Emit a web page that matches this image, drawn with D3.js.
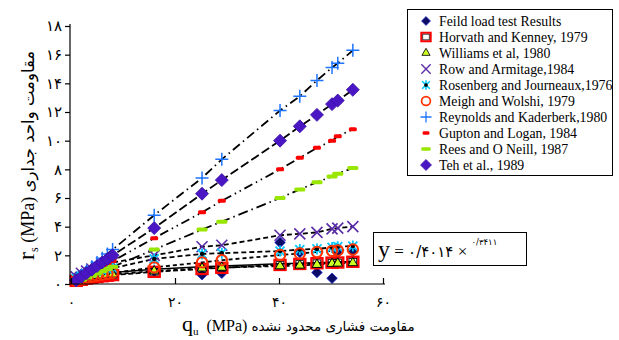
<!DOCTYPE html>
<html>
<head>
<meta charset="utf-8">
<script src="https://cdn.jsdelivr.net/npm/d3@7"></script>
<style>
  body { margin: 0; background: #fff; }
  svg { display: block; font-family: "Liberation Serif", "DejaVu Sans", serif; }
</style>
</head>
<body>
<div id="chart"></div>
<script>
// --- Data ---
const quValues = [1, 2, 3, 4, 5, 6, 7, 8, 16, 25.2, 29, 40.2, 44, 47.3, 50.2, 51.3, 54.2];

const fieldLoad = [0.5, 0.7, 0.9, 0.6, 1.0, 0.8, 1.1, 0.9, 0.9, 0.65, 0.75, 2.9, 2.2, 0.8, 0.4, 2.2, 2.3];
const horvath   = [0.22, 0.3, 0.38, 0.44, 0.49, 0.54, 0.58, 0.62, 0.85, 1.05, 1.13, 1.33, 1.4, 1.45, 1.49, 1.5, 1.55];
const williams  = [0.3, 0.4, 0.47, 0.52, 0.57, 0.61, 0.65, 0.68, 0.9, 1.1, 1.15, 1.25, 1.3, 1.35, 1.42, 1.44, 1.47];
const rowe      = [0.5, 0.75, 0.9, 1.05, 1.2, 1.3, 1.4, 1.5, 2.0, 2.6, 2.7, 3.4, 3.5, 3.6, 3.85, 3.9, 4.0];
const rosenberg = [0.38, 0.55, 0.68, 0.78, 0.88, 0.96, 1.04, 1.1, 1.75, 2.1, 2.15, 2.3, 2.4, 2.45, 2.55, 2.6, 2.65];
const meigh     = [0.22, 0.33, 0.42, 0.51, 0.58, 0.65, 0.71, 0.77, 1.16, 1.51, 1.66, 2.02, 2.13, 2.23, 2.31, 2.34, 2.41];
const reynolds  = [0.3, 0.6, 0.9, 1.2, 1.5, 1.8, 2.1, 2.4, 4.8, 7.4, 8.7, 12.1, 13.1, 14.2, 15.1, 15.4, 16.3];
const gupton    = [0.2, 0.4, 0.6, 0.8, 1.0, 1.2, 1.4, 1.6, 3.2, 5.0, 5.8, 8.0, 8.8, 9.5, 10.0, 10.3, 10.8];
const rees      = [0.15, 0.3, 0.45, 0.6, 0.75, 0.9, 1.05, 1.2, 2.4, 3.8, 4.35, 6.0, 6.6, 7.1, 7.5, 7.7, 8.1];
const teh       = [0.25, 0.5, 0.75, 1.0, 1.25, 1.5, 1.75, 2.0, 3.9, 6.3, 7.25, 10.0, 11.0, 11.8, 12.55, 12.8, 13.55];
const fitted    = [0.4, 0.51, 0.58, 0.64, 0.69, 0.74, 0.78, 0.81, 1.03, 1.2, 1.26, 1.41, 1.45, 1.49, 1.52, 1.53, 1.56];

const xTicks = [0, 20, 40, 60];
const xTickLabels = ["۰", "۲۰", "۴۰", "۶۰"];
const yTicks = [0, 2, 4, 6, 8, 10, 12, 14, 16, 18];
const yTickLabels = ["۰", "۲", "۴", "۶", "۸", "۱۰", "۱۲", "۱۴", "۱۶", "۱۸"];

const legendNames = [
    "Feild load test Results",
    "Horvath and Kenney, 1979",
    "Williams et al, 1980",
    "Row and Armitage,1984",
    "Rosenberg and Journeaux,1976",
    "Meigh and Wolshi, 1979",
    "Reynolds and Kaderberk,1980",
    "Gupton and Logan, 1984",
    "Rees and O Neill, 1987",
    "Teh et al., 1989"
];

// --- Series styles ---
const series = [
    { name: legendNames[0], values: fieldLoad, marker: 'field', dash: null },
    { name: legendNames[1], values: horvath, marker: 'square', dash: '5,2.5' },
    { name: legendNames[2], values: williams, marker: 'triangle', dash: '4,3' },
    { name: legendNames[3], values: rowe, marker: 'x', dash: '5,3' },
    { name: legendNames[4], values: rosenberg, marker: 'star', dash: '5,3' },
    { name: legendNames[5], values: meigh, marker: 'circle', dash: '4,3' },
    { name: legendNames[6], values: reynolds, marker: 'plus', dash: '9,4,1.5,4' },
    { name: legendNames[7], values: gupton, marker: 'red', dash: '9,4,1.5,4,1.5,4' },
    { name: legendNames[8], values: rees, marker: 'green', dash: '10,4,1.5,4' },
    { name: legendNames[9], values: teh, marker: 'teh', dash: '9,3.5' }
];

// --- Layout ---
const width = 619, height = 340;
const x = d3.scaleLinear().domain([0, 60]).range([71, 383]);
const y = d3.scaleLinear().domain([0, 18]).range([284, 26]);

const svg = d3.select('#chart').append('svg')
    .attr('width', width)
    .attr('height', height);

function drawMarker(g, type, cx, cy, scale) {
    const s = scale || 1;
    const m = g.append('g').attr('transform', `translate(${cx},${cy}) scale(${s})`);
    if (type === 'field') {
        m.append('path').attr('d', d3.symbol(d3.symbolSquare, 56)())
            .attr('transform', 'rotate(45)')
            .attr('fill', '#0c0c66').attr('stroke', '#2233cc').attr('stroke-width', 0.8);
    } else if (type === 'teh') {
        m.append('path').attr('d', d3.symbol(d3.symbolSquare, 84)())
            .attr('transform', 'rotate(45)')
            .attr('fill', '#4a16c4').attr('stroke', '#3a0ea8').attr('stroke-width', 0.8);
    } else if (type === 'square') {
        m.append('rect').attr('x', -5.5).attr('y', -5).attr('width', 11).attr('height', 10)
            .attr('fill', 'none').attr('stroke', '#ff0000').attr('stroke-width', 2.4);
        m.append('rect').attr('x', -3.8).attr('y', -3.3).attr('width', 7.6).attr('height', 6.6)
            .attr('fill', 'none').attr('stroke', '#000').attr('stroke-width', 0.8);
    } else if (type === 'triangle') {
        m.append('path').attr('d', d3.symbol(d3.symbolTriangle, 40)())
            .attr('fill', '#ccff22').attr('stroke', '#000').attr('stroke-width', 1);
    } else if (type === 'x') {
        m.append('path').attr('d', 'M-5.5,-5.5L5.5,5.5M-5.5,5.5L5.5,-5.5')
            .attr('stroke', '#5a2ca8').attr('stroke-width', 1.6).attr('fill', 'none');
    } else if (type === 'star') {
        m.append('path').attr('d', 'M-4.5,-4.5L4.5,4.5M-4.5,4.5L4.5,-4.5M0,-5.5L0,5.5')
            .attr('stroke', '#00c8ff').attr('stroke-width', 1.8).attr('fill', 'none');
        m.append('circle').attr('r', 2.2).attr('fill', '#000');
    } else if (type === 'circle') {
        m.append('circle').attr('r', 5.2)
            .attr('fill', 'none').attr('stroke', '#ff3300').attr('stroke-width', 2);
    } else if (type === 'plus') {
        m.append('path').attr('d', 'M-6.5,0L6.5,0M0,-6.5L0,6.5')
            .attr('stroke', '#1e74ff').attr('stroke-width', 1.5).attr('fill', 'none');
    } else if (type === 'red') {
        m.append('rect').attr('x', -4).attr('y', -2).attr('width', 8).attr('height', 4)
            .attr('rx', 1.5).attr('fill', '#ff0000');
    } else if (type === 'green') {
        m.append('rect').attr('x', -5.5).attr('y', -2).attr('width', 11).attr('height', 4)
            .attr('rx', 1.5).attr('fill', '#99e600');
    }
}

// --- Fit lines ---
const line = d3.line()
    .x((d, i) => x(quValues[i]))
    .y(d => y(d));

series.forEach(s => {
    if (!s.dash) return;
    svg.append('path')
        .datum(s.values)
        .attr('d', line)
        .attr('fill', 'none')
        .attr('stroke', '#000')
        .attr('stroke-width', 1.8)
        .attr('stroke-dasharray', s.dash);
});

svg.append('path')
    .datum(fitted)
    .attr('d', line)
    .attr('fill', 'none')
    .attr('stroke', '#000')
    .attr('stroke-width', 1.5);

// --- Markers ---
series.forEach(s => {
    const g = svg.append('g');
    s.values.forEach((v, i) => drawMarker(g, s.marker, x(quValues[i]), y(v)));
});

// --- Axes ---
const xAxis = svg.append('g').attr('transform', `translate(0,${y(0)})`)
    .call(d3.axisBottom(x).tickValues(xTicks).tickSize(-6).tickFormat((d, i) => xTickLabels[i]));
xAxis.select('.domain').attr('d', `M${x(0) - 1},0H${x(60) + 2}`);
xAxis.selectAll('line').attr('stroke-width', 1.2);
xAxis.select('.domain').attr('stroke-width', 1.2);
xAxis.selectAll('text')
    .attr('y', 13)
    .attr('dy', '0.71em')
    .style('font-family', '"DejaVu Sans", sans-serif')
    .style('font-size', '14px')
    .attr('fill', '#000');

const yAxis = svg.append('g').attr('transform', `translate(${x(0) - 1},0)`)
    .call(d3.axisLeft(y).tickValues(yTicks).tickSize(5).tickFormat((d, i) => yTickLabels[i]));
yAxis.select('.domain').attr('d', `M0,${y(0)}V${y(18) - 2}`);
yAxis.selectAll('line').attr('stroke-width', 1.2);
yAxis.select('.domain').attr('stroke-width', 1.2);
yAxis.selectAll('text')
    .attr('x', -8)
    .style('font-family', '"DejaVu Sans", sans-serif')
    .style('font-size', '15px')
    .attr('fill', '#000');

// --- Axis titles ---
const xTitle = svg.append('text')
    .attr('x', 182)
    .attr('y', 331)
    .attr('fill', '#000');
xTitle.append('tspan').style('font-size', '22px').text('q');
xTitle.append('tspan').style('font-size', '11px').attr('dy', 4).text('u');
xTitle.append('tspan').style('font-size', '16px').attr('dy', -4).text('\u00a0 (MPa) ');
xTitle.append('tspan').style('font-size', '13.5px').style('font-family', '"DejaVu Sans", sans-serif')
    .text('مقاومت فشاری محدود نشده');

const yTitle = svg.append('text')
    .attr('transform', 'translate(34,260) rotate(-90)')
    .attr('fill', '#000');
yTitle.append('tspan').style('font-size', '24px').text('r');
yTitle.append('tspan').style('font-size', '12px').attr('dy', 4).text('s');
yTitle.append('tspan').style('font-size', '18px').attr('dy', -4).text('\u00a0(MPa) ');
yTitle.append('tspan').style('font-size', '16.5px').style('font-family', '"DejaVu Sans", sans-serif')
    .text('مقاومت واحد جداری');

// --- Equation box ---
svg.append('rect')
    .attr('x', 373.5).attr('y', 232.5)
    .attr('width', 153).attr('height', 33)
    .attr('fill', '#fff').attr('stroke', '#000').attr('stroke-width', 1);
const eq = svg.append('text').attr('x', 378).attr('y', 257).attr('fill', '#000');
eq.append('tspan').style('font-size', '24px').text('y');
eq.append('tspan').style('font-size', '17px').text(' = ');
eq.append('tspan').style('font-size', '15px').style('font-family', '"DejaVu Sans", sans-serif').text('۰/۴۰۱۴');
eq.append('tspan').style('font-size', '17px').text(' × ');
eq.append('tspan').style('font-size', '8.5px').style('font-family', '"DejaVu Sans", sans-serif')
    .attr('dy', -12).text('۰/۳۴۱۱');

// --- Legend ---
svg.append('rect')
    .attr('x', 407.5).attr('y', 9.5)
    .attr('width', 205).attr('height', 166)
    .attr('fill', '#fff').attr('stroke', '#000').attr('stroke-width', 1);

const legend = svg.append('g');
series.forEach((s, i) => {
    const ly = 21 + i * 16;
    drawMarker(legend, s.marker, 426, ly, 0.85);
    legend.append('text')
        .attr('x', 439)
        .attr('y', ly)
        .attr('dy', '0.35em')
        .style('font-size', '13.8px')
        .attr('fill', '#000')
        .text(s.name);
});
</script>
</body>
</html>
